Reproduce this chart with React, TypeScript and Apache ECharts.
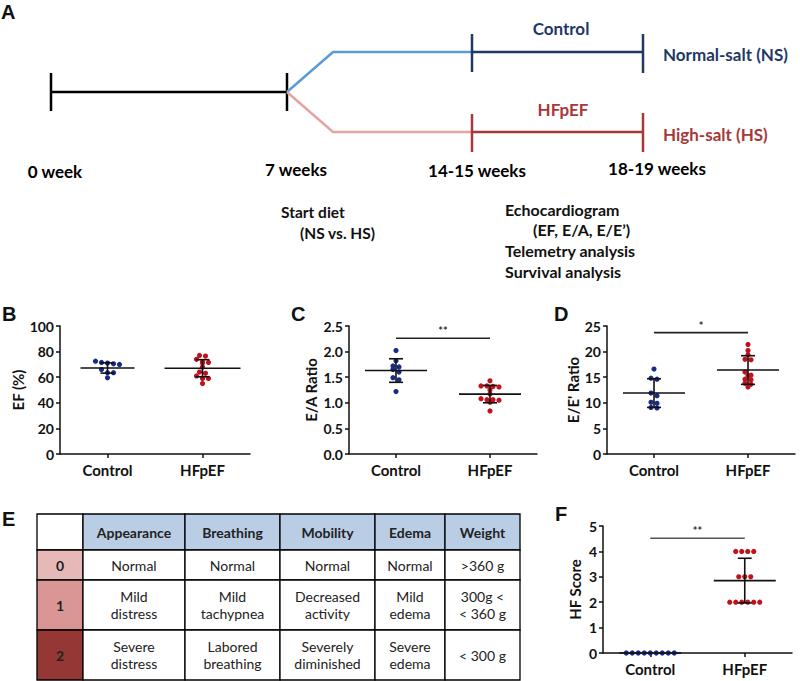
import React, { useEffect, useRef } from "react";
import * as echarts from "echarts";

// ---------------- data ----------------
const groups = ["Control", "HFpEF"];

const efControl = [72.5, 71.5, 71, 70.5, 70, 66, 63.5, 63.5, 59.5];
const efHFpEF = [77, 76.5, 74, 72, 71.5, 71, 68, 64, 63, 61, 59, 59, 55];
const efMean = [67.2, 67.0];
const efSD = [4.0, 6.7];

const eaControl = [2.02, 1.82, 1.72, 1.7, 1.65, 1.6, 1.49, 1.45, 1.22];
const eaHFpEF = [1.43, 1.33, 1.33, 1.32, 1.31, 1.25, 1.17, 1.08, 1.06, 1.06, 1.05, 1.01, 0.84];
const eaMean = [1.63, 1.17];
const eaSD = [0.23, 0.17];
const eaSig = [2.26];

const eeControl = [16.6, 14.8, 14.6, 11.9, 11.4, 10.1, 9.9, 9.1, 9.0];
const eeHFpEF = [21.4, 20.2, 19.4, 18.5, 18.4, 16.0, 15.4, 15.3, 14.6, 14.5, 13.8, 13.6, 13.1];
const eeMean = [11.9, 16.4];
const eeSD = [2.8, 2.8];
const eeSig = [23.7];

const hfControl = [0, 0, 0, 0, 0, 0, 0, 0, 0];
const hfHFpEF = [4, 4, 4, 4, 3, 3, 3, 2, 2, 2, 2, 2, 2];
const hfMean = [0, 2.85];
const hfSD = [0, 0.88];
const hfSig = [4.52];

const timelineLabels = ["0 week", "7 weeks", "14-15 weeks", "18-19 weeks"];
const dietLabels = ["Start diet", "(NS vs. HS)"];
const analysisLabels = ["Echocardiogram", "(EF, E/A, E/E\u2019)", "Telemetry analysis", "Survival analysis"];

const tableHeader = ["", "Appearance", "Breathing", "Mobility", "Edema", "Weight"];
const scoreLabels = ["0", "1", "2"];
const tableRows = [
  ["Normal", "Normal", "Normal", "Normal", ">360 g"],
  ["Mild\ndistress", "Mild\ntachypnea", "Decreased\nactivity", "Mild\nedema", "300g <\n< 360 g"],
  ["Severe\ndistress", "Labored\nbreathing", "Severely\ndiminished", "Severe\nedema", "< 300 g"],
];

// ---------------- styles ----------------
const FONT = "Lato";
const LETTER_FONT = "Liberation Sans";
const INK = "#111";
const DOT_COLORS = ["#1a2a8a", "#c0121b"];
const NAVY = "#1f3864";
const LIGHT_BLUE = "#5b9bd5";
const DARK_RED = "#a83838";
const LIGHT_PINK = "#e6a3a3";

const DOT_R = 2.6;
const DOT_SPACING = 6;
const ROW_GAP = 3.5;

function dotSeries(gi: number, control: number[], hf: number[]) {
  const vals = [control, hf];
  const data: number[][] = [];
  control.forEach((v, i) => data.push([0, v, i]));
  hf.forEach((v, i) => data.push([1, v, i]));
  return {
    type: "custom",
    xAxisIndex: gi,
    yAxisIndex: gi,
    z: 3,
    data,
    encode: { x: 0, y: 1 },
    renderItem: (params: any, api: any) => {
      const cat = api.value(0);
      const idx = api.value(2);
      const list = vals[cat];
      const cx = api.coord([cat, 0])[0];
      const pys = list.map((val) => api.coord([cat, val])[1]);
      const order = list.map((_, i) => i).sort((a, b) => pys[a] - pys[b]);
      const rows: number[][] = [];
      let cur: number[] | null = null;
      for (const i of order) {
        if (cur && Math.abs(pys[i] - pys[cur[0]]) < ROW_GAP) cur.push(i);
        else {
          cur = [i];
          rows.push(cur);
        }
      }
      const row = rows.find((r) => r.includes(idx)) || [idx];
      const k = row.indexOf(idx);
      const off = (k - (row.length - 1) / 2) * DOT_SPACING;
      return {
        type: "circle",
        shape: { cx: cx + off, cy: pys[idx], r: DOT_R },
        style: { fill: DOT_COLORS[cat] },
      };
    },
  };
}

function statSeries(gi: number, mean: number[], sd: number[], halfWidths: number[]) {
  return {
    type: "custom",
    xAxisIndex: gi,
    yAxisIndex: gi,
    z: 4,
    data: mean.map((m, i) => [i, m, sd[i]]),
    encode: { x: 0, y: 1 },
    renderItem: (params: any, api: any) => {
      const cat = api.value(0);
      const m = api.value(1);
      const s = api.value(2);
      const [cx, cy] = api.coord([cat, m]);
      const hw = halfWidths[cat];
      const st = { stroke: INK, lineWidth: 1.6 };
      const children: any[] = [
        { type: "line", shape: { x1: cx - hw, y1: cy, x2: cx + hw, y2: cy }, style: st },
      ];
      if (s > 0) {
        const yt = api.coord([cat, m + s])[1];
        const yb = api.coord([cat, m - s])[1];
        children.push(
          { type: "line", shape: { x1: cx, y1: yt, x2: cx, y2: yb }, style: st },
          { type: "line", shape: { x1: cx - 7, y1: yt, x2: cx + 7, y2: yt }, style: st },
          { type: "line", shape: { x1: cx - 7, y1: yb, x2: cx + 7, y2: yb }, style: st }
        );
      }
      return { type: "group", children };
    },
  };
}

function sigSeries(gi: number, level: number[], label: string, color: string) {
  return {
    type: "custom",
    xAxisIndex: gi,
    yAxisIndex: gi,
    z: 4,
    data: level.map((y) => [0, y]),
    encode: { x: 0, y: 1 },
    renderItem: (params: any, api: any) => {
      const y = api.value(1);
      const p0 = api.coord([0, y]);
      const p1 = api.coord([1, y]);
      return {
        type: "group",
        children: [
          { type: "line", shape: { x1: p0[0], y1: p0[1], x2: p1[0], y2: p1[1] }, style: { stroke: color, lineWidth: 1.6 } },
          {
            type: "text",
            x: (p0[0] + p1[0]) / 2,
            y: p0[1] - 2,
            style: { text: label, fill: "#333", fontSize: 11, fontFamily: FONT, fontWeight: "bold", align: "center", verticalAlign: "bottom" },
          },
        ],
      };
    },
  };
}

const axisLineStyle = { show: true, lineStyle: { color: INK, width: 1.5 } };

function yAxis(gi: number, max: number, interval: number, name: string, gap: number, fmt?: any) {
  const a: any = {
    type: "value",
    gridIndex: gi,
    min: 0,
    max,
    interval,
    name,
    nameLocation: "middle",
    nameRotate: 90,
    nameGap: gap,
    nameTextStyle: { fontFamily: FONT, fontWeight: "bold", fontSize: 15, color: INK },
    axisLine: axisLineStyle,
    axisTick: { show: true, length: 4, lineStyle: { color: INK, width: 1.5 } },
    axisLabel: { fontFamily: FONT, fontWeight: "bold", fontSize: 14, color: INK, margin: 6 },
    splitLine: { show: false },
  };
  if (fmt) a.axisLabel.formatter = fmt;
  return a;
}

function xAxis(gi: number) {
  return {
    type: "category",
    gridIndex: gi,
    data: groups,
    boundaryGap: true,
    axisLine: axisLineStyle,
    axisTick: { show: true, alignWithLabel: true, length: 4, lineStyle: { color: INK, width: 1.5 } },
    axisLabel: { fontFamily: FONT, fontWeight: "bold", fontSize: 15, color: INK, margin: 8 },
    splitLine: { show: false },
  };
}

function txt(x: number, y: number, text: string, opts: any = {}) {
  return {
    type: "text",
    x,
    y,
    silent: true,
    style: {
      text,
      fill: opts.fill || INK,
      fontSize: opts.size || 14,
      fontWeight: opts.weight || "bold",
      fontFamily: opts.family || FONT,
      align: opts.align || "left",
      verticalAlign: opts.valign || "middle",
      lineHeight: opts.lineHeight,
    },
  };
}

function seg(x1: number, y1: number, x2: number, y2: number, color: string, w = 2.5) {
  return { type: "line", silent: true, shape: { x1, y1, x2, y2 }, style: { stroke: color, lineWidth: w } };
}

function buildGraphic() {
  const g: any[] = [];
  // Panel letters
  g.push(txt(1, 12, "A", { size: 20, family: LETTER_FONT }));
  g.push(txt(2, 314, "B", { size: 20, family: LETTER_FONT }));
  g.push(txt(291, 314, "C", { size: 20, family: LETTER_FONT }));
  g.push(txt(554, 314, "D", { size: 20, family: LETTER_FONT }));
  g.push(txt(2, 519, "E", { size: 20, family: LETTER_FONT }));
  g.push(txt(555, 514, "F", { size: 20, family: LETTER_FONT }));

  // Panel A timeline
  g.push(seg(51, 92, 287, 92, "#000"));
  g.push(seg(51, 73, 51, 111, "#000"));
  g.push(seg(287, 73, 287, 111, "#000"));
  g.push({ type: "polyline", silent: true, shape: { points: [[287, 92], [333, 52], [472, 52]] }, style: { stroke: LIGHT_BLUE, lineWidth: 2.5, fill: "none" } });
  g.push({ type: "polyline", silent: true, shape: { points: [[287, 92], [333, 132], [472, 132]] }, style: { stroke: LIGHT_PINK, lineWidth: 2.5, fill: "none" } });
  g.push(seg(472, 52, 643, 52, NAVY));
  g.push(seg(472, 34, 472, 72, NAVY));
  g.push(seg(643, 34, 643, 73, NAVY));
  g.push(seg(472, 132, 643, 132, DARK_RED));
  g.push(seg(472, 114, 472, 152, DARK_RED));
  g.push(seg(643, 113, 643, 152, DARK_RED));
  g.push(txt(561, 28, "Control", { fill: NAVY, size: 17, align: "center" }));
  g.push(txt(663, 54, "Normal-salt (NS)", { fill: NAVY, size: 17 }));
  g.push(txt(563, 109, "HFpEF", { fill: DARK_RED, size: 17, align: "center" }));
  g.push(txt(663, 134, "High-salt (HS)", { fill: DARK_RED, size: 17 }));
  const weekX = [55, 296, 477, 657];
  const weekY = [171, 169, 170, 168];
  timelineLabels.forEach((t, i) => g.push(txt(weekX[i], weekY[i], t, { size: 17, align: "center", fill: "#000" })));
  g.push(txt(281, 212, dietLabels[0], { size: 15.5 }));
  g.push(txt(300, 233, dietLabels[1], { size: 15.5 }));
  const anX = [505, 533, 505, 505];
  const anY = [209, 229, 250, 271];
  analysisLabels.forEach((t, i) => g.push(txt(anX[i], anY[i], t, { size: 16 })));

  // Panel E table
  const colX = [37, 83, 185, 280, 375, 445, 520];
  const rowY = [514, 550, 580, 630, 680];
  const labelFills = ["#e6b9b8", "#d99694", "#953734"];
  for (let r = 0; r < 4; r++) {
    for (let c = 0; c < 6; c++) {
      let fill = "#ffffff";
      if (r === 0 && c > 0) fill = "#b9cde5";
      if (r > 0 && c === 0) fill = labelFills[r - 1];
      g.push({
        type: "rect",
        silent: true,
        shape: { x: colX[c], y: rowY[r], width: colX[c + 1] - colX[c], height: rowY[r + 1] - rowY[r] },
        style: { fill, stroke: "#000", lineWidth: 1.3 },
      });
      const cx = (colX[c] + colX[c + 1]) / 2;
      const cy = (rowY[r] + rowY[r + 1]) / 2;
      if (r === 0) {
        if (c > 0) g.push(txt(cx, cy, tableHeader[c], { size: 14, align: "center", fill: "#222" }));
      } else if (c === 0) {
        g.push(txt(cx, cy, scoreLabels[r - 1], { size: 14, align: "center", fill: "#222" }));
      } else {
        g.push(txt(cx, cy, tableRows[r - 1][c - 1], { size: 14, weight: "normal", align: "center", fill: "#222", lineHeight: 17 }));
      }
    }
  }
  return g;
}

export default function App() {
  const ref = useRef<HTMLDivElement>(null);
  useEffect(() => {
    if (!ref.current) return;
    const chart = echarts.init(ref.current, undefined, { renderer: "svg" });
    const option: any = {
      animation: false,
      backgroundColor: "#ffffff",
      grid: [
        { left: 60, top: 326, width: 190, height: 128 },
        { left: 349, top: 326, width: 188, height: 128 },
        { left: 607, top: 326, width: 188, height: 128 },
        { left: 603, top: 526, width: 189, height: 127 },
      ],
      xAxis: [xAxis(0), xAxis(1), xAxis(2), xAxis(3)],
      yAxis: [
        yAxis(0, 100, 20, "EF (%)", 33),
        yAxis(1, 2.5, 0.5, "E/A Ratio", 31, (v: number) => v.toFixed(1)),
        yAxis(2, 25, 5, "E/E' Ratio", 27),
        yAxis(3, 5, 1, "HF Score", 21),
      ],
      series: [
        dotSeries(0, efControl, efHFpEF),
        statSeries(0, efMean, efSD, [27, 38]),
        dotSeries(1, eaControl, eaHFpEF),
        statSeries(1, eaMean, eaSD, [31, 31]),
        sigSeries(1, eaSig, "**", "#222"),
        dotSeries(2, eeControl, eeHFpEF),
        statSeries(2, eeMean, eeSD, [31, 31]),
        sigSeries(2, eeSig, "*", "#222"),
        dotSeries(3, hfControl, hfHFpEF),
        statSeries(3, hfMean, hfSD, [31, 31]),
        sigSeries(3, hfSig, "**", "#555"),
      ],
      graphic: buildGraphic(),
    };
    chart.setOption(option);
    return () => chart.dispose();
  }, []);
  return <div ref={ref} style={{ position: "absolute", left: 0, top: 0, width: 800, height: 681 }} />;
}
